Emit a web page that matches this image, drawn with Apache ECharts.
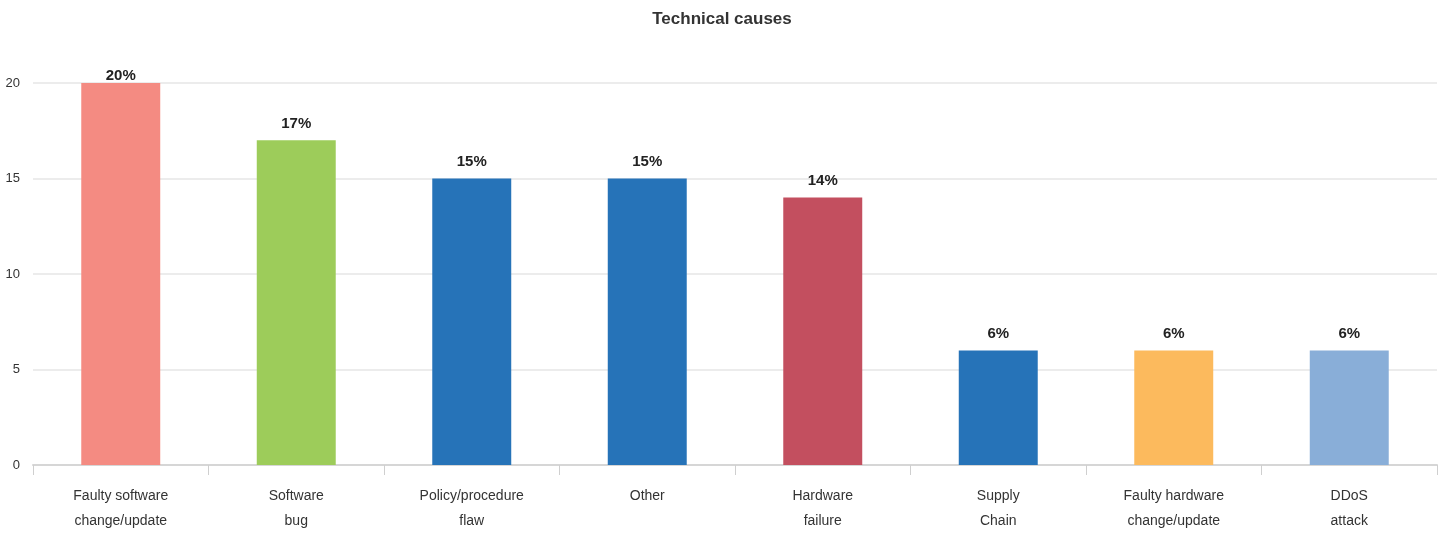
<!DOCTYPE html>
<html>
<head>
<meta charset="utf-8">
<script src="https://cdn.jsdelivr.net/npm/echarts@6/dist/echarts.min.js"></script>
<style>
html,body{margin:0;padding:0;background:#fff;}
#chart{width:1444px;height:534px;}
</style>
</head>
<body>
<div id="chart"></div>
<script>
// Technical causes of outages, share of incidents (%)
const categories = [
  'Faulty software\nchange/update',
  'Software\nbug',
  'Policy/procedure\nflaw',
  'Other',
  'Hardware\nfailure',
  'Supply\nChain',
  'Faulty hardware\nchange/update',
  'DDoS\nattack'
];
const values = [20, 17, 15, 15, 14, 6, 6, 6];
const barColors = ['#F48B82', '#9DCC5A', '#2673B8', '#2673B8', '#C34F5F', '#2673B8', '#FCBA5D', '#89AED8'];
const yTicks = [0, 5, 10, 15, 20];

const FONT = '"Liberation Sans", Arial, sans-serif';

const chart = echarts.init(document.getElementById('chart'), null, { renderer: 'canvas' });
chart.setOption({
  animation: false,
  title: {
    text: 'Technical causes',
    left: 'center',
    top: 6,
    textStyle: { fontFamily: FONT, fontSize: 17, fontWeight: 'bold', color: '#333' }
  },
  grid: { left: 33, right: 7, top: 83, bottom: 68 },
  xAxis: {
    type: 'category',
    data: categories,
    axisLine: { show: true, lineStyle: { color: '#d6d6d6', width: 2 } },
    axisTick: { show: true, alignWithLabel: false, interval: 0, length: 10, lineStyle: { color: '#cfcfcf', width: 1 } },
    axisLabel: { fontFamily: FONT, fontSize: 14, color: '#333', lineHeight: 25, margin: 19, interval: 0 }
  },
  yAxis: {
    type: 'value',
    min: yTicks[0],
    max: yTicks[yTicks.length - 1],
    interval: yTicks[1] - yTicks[0],
    axisLine: { show: false },
    axisTick: { show: false },
    splitLine: { lineStyle: { color: '#e6e6e6', width: 1.5 } },
    axisLabel: { fontFamily: FONT, fontSize: 13, color: '#333', margin: 13 }
  },
  series: [{
    type: 'bar',
    barWidth: '45%',
    data: values.map((v, i) => ({
      value: v,
      itemStyle: { color: barColors[i] },
      label: i === 0 ? { distance: 0 } : undefined
    })),
    label: {
      show: true,
      position: 'top',
      distance: 9,
      formatter: '{c}%',
      fontFamily: FONT,
      fontSize: 15,
      fontWeight: 'bold',
      color: '#222'
    }
  }]
});
</script>
</body>
</html>
